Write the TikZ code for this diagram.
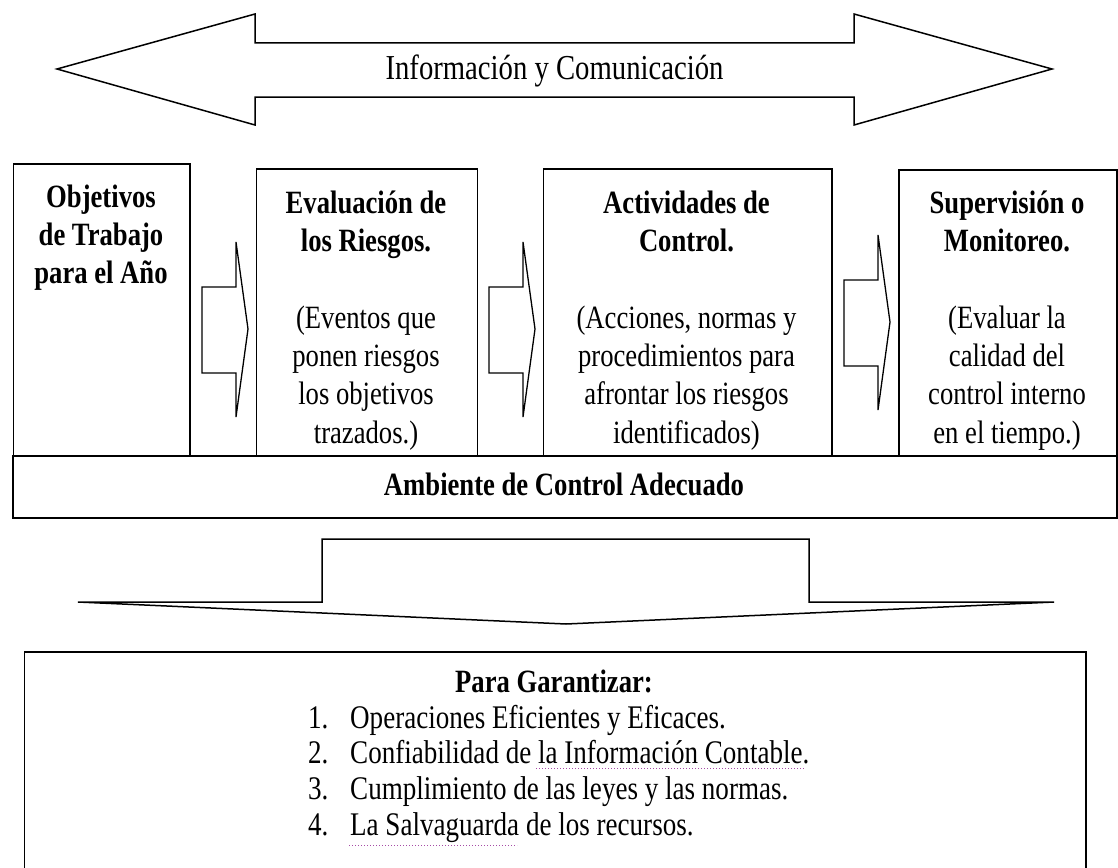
\documentclass[tikz,border=0pt]{standalone}
\usepackage{fontspec}
\setmainfont{Liberation Serif}[FakeStretch=0.82]
\begin{document}
\begin{tikzpicture}[x=1pt, y=1pt,
    cell/.style={draw, line width=1.5pt, inner sep=0pt, anchor=north west},
    celltext/.style={font=\fontsize{32.5}{38.3}\selectfont, align=center, inner sep=0pt, anchor=north},
    blockarrow/.style={draw, line width=1.3pt},
    itemtext/.style={font=\fontsize{33}{36}\selectfont, inner sep=0pt, anchor=base west}]
    \useasboundingbox (0,0) rectangle (1118,-867);
    \clip (0,0) rectangle (1118,-867);

    % double arrow on top
    \draw[line width=1.5pt] (57,-69) -- (255,-14) -- (255,-43) -- (854,-43) -- (854,-14)
        -- (1052,-69) -- (854,-125) -- (854,-97) -- (255,-97) -- (255,-125) -- cycle;
    \node[font=\fontsize{35}{40}\selectfont, inner sep=0pt, anchor=base] (info) at (554.5,-79) {Información y Comunicación};

    % the four components
    \node[cell, minimum width=176.5pt, minimum height=292pt] (objbox) at (12.5,-163) {};
    \node[cell, minimum width=221pt, minimum height=287pt] (evalbox) at (255.5,-168) {};
    \node[cell, minimum width=288.5pt, minimum height=287pt] (actbox) at (542.5,-168) {};
    \node[cell, minimum width=218pt, minimum height=286pt] (supbox) at (898,-169) {};

    \node[celltext] (objtxt) at (101,-180.2) {\strut\textbf{Objetivos}\\ \textbf{de Trabajo}\\ \textbf{para el Año}};
    \node[celltext] (evaltxt) at (366,-186.2) {\strut\textbf{Evaluación de}\\ \textbf{los Riesgos.}\\[38.3pt]
        (Eventos que\\ ponen riesgos\\ los objetivos\\ trazados.)};
    \node[celltext] (acttxt) at (686.5,-186.2) {\strut\textbf{Actividades de}\\ \textbf{Control.}\\[38.3pt]
        (Acciones, normas y\\ procedimientos para\\ afrontar los riesgos\\ identificados)};
    \node[celltext] (suptxt) at (1007,-186.2) {\strut\textbf{Supervisión o}\\ \textbf{Monitoreo.}\\[38.3pt]
        (Evaluar la\\ calidad del\\ control interno\\ en el tiempo.)};

    % block arrows between the components
    \foreach \x/\y in {202/0, 489/0, 844/7}
        \draw[blockarrow, shift={(\x,\y)}] (0,-287) -- (34,-287) -- (34,-242) -- (46,-329)
            -- (34,-417) -- (34,-373) -- (0,-373) -- cycle;

    \node[cell, minimum width=1104pt, minimum height=62pt] (ambbox) at (12,-455) {};
    \node[font=\fontsize{32.5}{38}\selectfont\bfseries, inner sep=0pt, anchor=base] (ambtxt) at (564,-495) {Ambiente de Control Adecuado};

    % wide arrow down
    \draw[line width=1.5pt] (322,-539) -- (809,-539) -- (809,-602) -- (1054,-602) -- (566,-624)
        -- (78,-602) -- (322,-602) -- cycle;

    \node[cell, minimum width=1061.5pt, minimum height=240pt] (garbox) at (23.5,-651) {};
    \node[font=\fontsize{32.5}{38}\selectfont\bfseries, inner sep=0pt, anchor=base] (gartxt) at (554,-692) {Para Garantizar:};

    \foreach \t [count=\i] in {Operaciones Eficientes y Eficaces., Confiabilidad de la Información Contable.,
            Cumplimiento de las leyes y las normas., La Salvaguarda de los recursos.} {
        \node[itemtext] (num\i) at (308,-728-35.67*\i+35.67) {\i.};
        \node[itemtext] (item\i) at (350,-728-35.67*\i+35.67) {\t};
    }

    % spelling marks
    \draw[dotted, line width=1pt, violet!70] (536,-768) -- (804,-768);
    \draw[dotted, line width=1pt, violet!70] (349,-845) -- (517,-845);
\end{tikzpicture}
\end{document}
